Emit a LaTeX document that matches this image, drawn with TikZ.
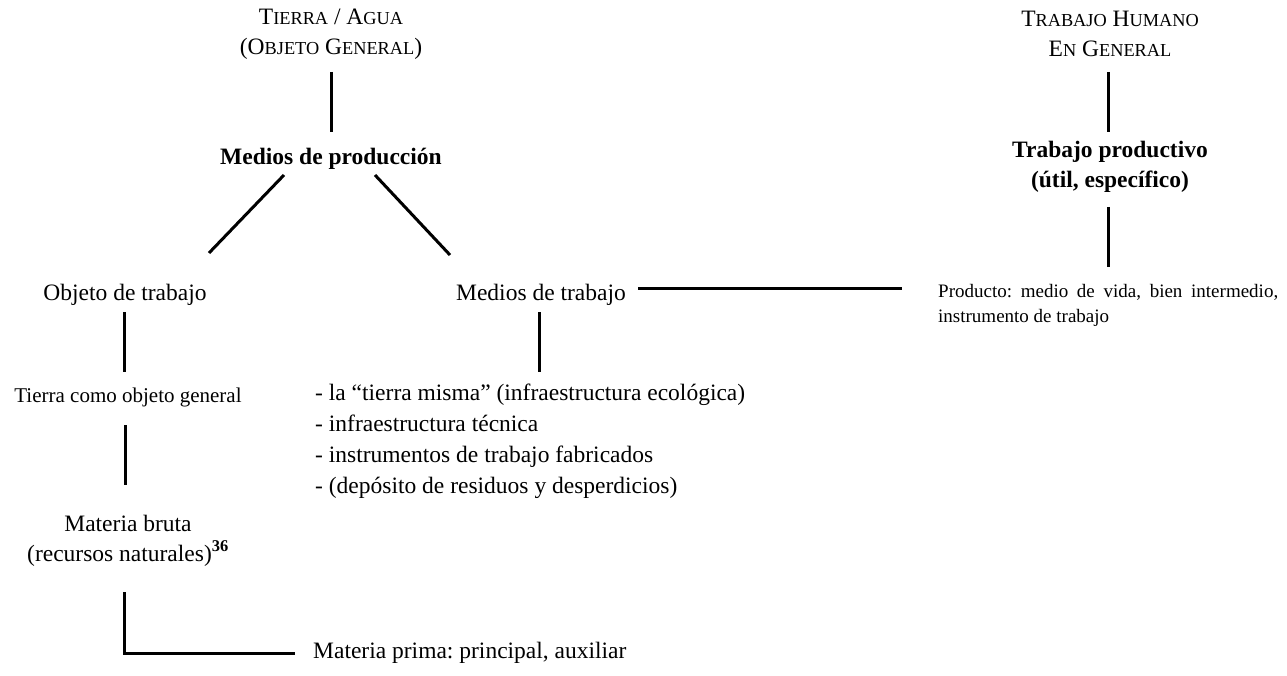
\documentclass[tikz,border=0pt]{standalone}
\usepackage{fontspec}
\setmainfont{Liberation Serif}
\newcommand\fsc[1]{{\fontsize{18.3}{30}\selectfont #1}}
\frenchspacing
\begin{document}
\frenchspacing
\begin{tikzpicture}[x=1pt,y=-1pt,
  txt/.style={inner sep=0pt, font=\fontsize{23.5}{30}\selectfont\frenchspacing},
  boldtxt/.style={inner sep=0pt, font=\fontsize{23.5}{30}\selectfont\bfseries},
  smalltxt/.style={inner sep=0pt, font=\fontsize{21}{26}\selectfont},
  prodtxt/.style={inner sep=0pt, font=\fontsize{19}{25}\selectfont\frenchspacing},
  link/.style={line width=3pt}]
\useasboundingbox (0,0) rectangle (1287,676);
% nodes (base anchor of a multi-line node = its last line)
\node[txt, align=center, anchor=base] (tierra) at (331,55) {T\fsc{IERRA} / A\fsc{GUA}\\(O\fsc{BJETO} G\fsc{ENERAL})};
\node[boldtxt, anchor=base] (medprod) at (331,165) {Medios de producción};
\node[txt, anchor=base] (objeto) at (125,300) {Objeto de trabajo};
\node[txt, anchor=base] (medtrab) at (541,300) {Medios de trabajo};
\node[smalltxt, anchor=base] (tcomo) at (128,402) {Tierra como objeto general};
\node[txt, align=center, anchor=base] (mbruta) at (128,561) {Materia bruta\\(recursos naturales)\textsuperscript{\bfseries 36}};
\node[txt, anchor=base west] (mprima) at (313,658) {Materia prima: principal, auxiliar};
\node[txt, align=left, anchor=base west, font=\fontsize{23.5}{31}\selectfont] (lista) at (315,493) {- la “tierra misma” (infraestructura ecológica)\\- infraestructura técnica\\- instrumentos de trabajo fabricados\\- (depósito de residuos y desperdicios)};
\node[txt, align=center, anchor=base] (thumano) at (1110,57) {T\fsc{RABAJO} H\fsc{UMANO}\\E\fsc{N} G\fsc{ENERAL}};
\node[boldtxt, align=center, anchor=base] (tprod) at (1110,188) {Trabajo productivo\\(útil, específico)};
\node[prodtxt, text width=340pt, align=justify, anchor=base west] (producto) at (938,297) {Producto: medio de vida, bien intermedio,\linebreak instrumento de trabajo};
% connectors
\draw[link] ([shift={(0,17)}]tierra.base) -- ([shift={(0,-33)}]medprod.base);
\draw[link] ([shift={(-47,10)}]medprod.base) -- ([shift={(84,-47)}]objeto.base);
\draw[link] ([shift={(44,10)}]medprod.base) -- ([shift={(-91,-45)}]medtrab.base);
\draw[link] ([shift={(-1,12)}]objeto.base) -- ([shift={(-4,-30)}]tcomo.base);
\draw[link] ([shift={(-3,23)}]tcomo.base) -- ([shift={(-3,-76)}]mbruta.base);
\draw[link] ([shift={(-4,31)}]mbruta.base) |- ([shift={(-18,-5)}]mprima.base west);
\draw[link] ([shift={(-2,12)}]medtrab.base) -- ([shift={(224,-121)}]lista.base west);
\draw[link] ([shift={(12,-12)}]medtrab.base east) -- ([shift={(-36,-9)}]producto.base west);
\draw[link] ([shift={(-2,15)}]thumano.base) -- ([shift={(-2,-56)}]tprod.base);
\draw[link] ([shift={(-2,19)}]tprod.base) -- ([shift={(170,-30)}]producto.base west);
\end{tikzpicture}
\end{document}
